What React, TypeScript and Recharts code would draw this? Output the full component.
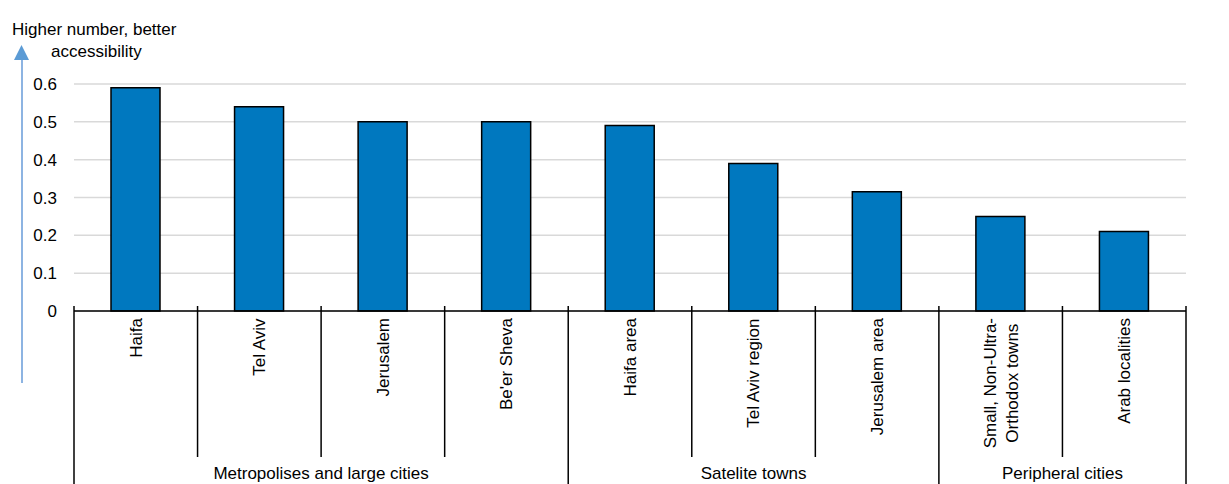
import React from "react";
import { BarChart, Bar, XAxis, YAxis, CartesianGrid } from "recharts";

const categories = [
  "Haifa",
  "Tel Aviv",
  "Jerusalem",
  "Be'er Sheva",
  "Haifa area",
  "Tel Aviv region",
  "Jerusalem area",
  "Small, Non-Ultra-\nOrthodox towns",
  "Arab localities",
];
const values = [0.59, 0.54, 0.5, 0.5, 0.49, 0.39, 0.315, 0.25, 0.21];
const groupNames = ["Metropolises and large cities", "Satelite towns", "Peripheral cities"];
const groupSizes = [4, 3, 2];
const yTicks = [0, 0.1, 0.2, 0.3, 0.4, 0.5, 0.6];

const W = 1229;
const H = 484;
const LEFT_W = 74;
const RIGHT_W = 43;
const TOP = 84;
const BOTTOM = 173;
const FONT = "'Liberation Sans', Arial, sans-serif";
const FS = 17;

const data = categories.map((name, i) => ({ name, value: values[i] }));

const groupStart: Record<number, number> = {};
{
  let idx = 0;
  groupSizes.forEach((n, g) => {
    groupStart[idx] = g;
    idx += n;
  });
}

let measureCtx: CanvasRenderingContext2D | null = null;
function measure(text: string): number {
  if (typeof document === "undefined") return text.length * FS * 0.5;
  if (!measureCtx) {
    const c = document.createElement("canvas");
    measureCtx = c.getContext("2d");
  }
  if (!measureCtx) return text.length * FS * 0.5;
  measureCtx.font = `${FS}px ${FONT}`;
  return measureCtx.measureText(text).width;
}

const plotW = W - LEFT_W - RIGHT_W;
const bw = plotW / categories.length;

function CategoryTick(props: any) {
  const { x, y, payload, index } = props;
  const label: string = String(payload.value);
  const lines = label.split("\n");
  const left = x - bw / 2;
  const right = x + bw / 2;
  const textTop = y + 7;
  const lineH = 22;
  const maxLen = Math.max(...lines.map(measure));
  const elems: React.ReactNode[] = [];
  const isGroupStart = groupStart[index] !== undefined;
  elems.push(
    <line
      key="lb"
      x1={left}
      x2={left}
      y1={y - 5}
      y2={isGroupStart ? H : y + 146}
      stroke="#000"
      strokeWidth={1.5}
    />
  );
  if (index === categories.length - 1) {
    elems.push(
      <line key="rb" x1={right} x2={right} y1={y - 5} y2={H} stroke="#000" strokeWidth={1.5} />
    );
  }
  const n = lines.length;
  lines.forEach((ln, li) => {
    const lx = x + (li - (n - 1) / 2) * lineH;
    const cy = textTop + maxLen / 2;
    elems.push(
      <text
        key={"t" + li}
        x={lx}
        y={cy}
        transform={`rotate(-90 ${lx} ${cy})`}
        textAnchor="middle"
        dy="0.35em"
        fontSize={FS}
        fill="#000"
        fontFamily={FONT}
      >
        {ln}
      </text>
    );
  });
  if (isGroupStart) {
    const g = groupStart[index];
    const gx = left + (groupSizes[g] * bw) / 2;
    elems.push(
      <text key="g" x={gx} y={y + 168} textAnchor="middle" fontSize={FS} fill="#000" fontFamily={FONT}>
        {groupNames[g]}
      </text>
    );
  }
  return <g>{elems}</g>;
}

export default function App() {
  return (
    <div style={{ position: "absolute", left: 0, top: 0, width: W, height: H, background: "#fff", fontFamily: FONT }}>
      <BarChart
        width={W}
        height={H}
        data={data}
        margin={{ top: TOP, right: 0, bottom: 0, left: 0 }}
        barCategoryGap={0}
      >
        <CartesianGrid yAxisId="left" vertical={false} stroke="#D9D9D9" strokeWidth={1.5} />
        <XAxis
          dataKey="name"
          interval={0}
          height={BOTTOM}
          tickLine={false}
          tickSize={0}
          tickMargin={0}
          axisLine={{ stroke: "#000", strokeWidth: 1.5 }}
          tick={<CategoryTick />}
        />
        <YAxis
          yAxisId="left"
          width={LEFT_W}
          domain={[0, 0.6]}
          ticks={yTicks}
          axisLine={false}
          tickLine={false}
          tickSize={0}
          tickMargin={17}
          tick={{ fontSize: FS, fill: "#000", fontFamily: FONT }}
        />
        <YAxis
          yAxisId="right"
          orientation="right"
          width={RIGHT_W}
          domain={[0, 0.6]}
          ticks={yTicks}
          axisLine={false}
          tickLine={false}
          tickSize={0}
          tickMargin={16}
          textAnchor="start"
          tick={{ fontSize: FS, fill: "#000", fontFamily: FONT, textAnchor: "start" }}
        />
        <Bar
          yAxisId="left"
          dataKey="value"
          fill="#0078BF"
          stroke="#000"
          strokeWidth={1.5}
          barSize={49}
          isAnimationActive={false}
        />
      </BarChart>
      <svg
        width={W}
        height={H}
        style={{ position: "absolute", left: 0, top: 0, pointerEvents: "none" }}
      >
        <text x={12} y={35} fontSize={FS} fill="#000" fontFamily={FONT}>
          Higher number, better
        </text>
        <text x={51} y={57} fontSize={FS} fill="#000" fontFamily={FONT}>
          accessibility
        </text>
        <line x1={22} x2={22} y1={58} y2={383} stroke="#8DB4E2" strokeWidth={2} />
        <polygon points="21.5,45 14,60 29,60" fill="#5B9BD5" />
      </svg>
    </div>
  );
}
